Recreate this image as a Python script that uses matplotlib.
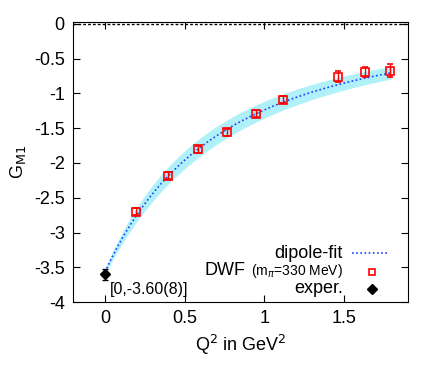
import numpy as np
import matplotlib.pyplot as plt

fonts = ['Liberation Sans Narrow', 'Liberation Sans']
plt.rcParams['font.family'] = fonts
plt.rcParams['mathtext.fontset'] = 'custom'
plt.rcParams['mathtext.rm'] = 'Liberation Sans Narrow'
plt.rcParams['mathtext.it'] = 'Liberation Sans Narrow:italic'

# lattice points (DWF, m_pi = 330 MeV)
q2 = [0.195, 0.394, 0.583, 0.765, 0.945, 1.12, 1.46, 1.63, 1.79]
gm1 = [-2.70, -2.18, -1.80, -1.56, -1.29, -1.09, -0.76, -0.69, -0.67]
gm1_err = [0.05, 0.05, 0.05, 0.05, 0.05, 0.05, 0.08, 0.07, 0.09]

# experiment
q2_exp = [0.0]
gm1_exp = [-3.60]
gm1_exp_err = [0.08]

# dipole fit parameters G0/(1+Q2/m2)^2
g0, g0_err = -3.57, 0.04
m2, m2_err = 1.43, 0.15

x = np.linspace(0, 1.8, 200)
fit = g0/(1 + x/m2)**2
lo = (g0 - g0_err)/(1 + x/(m2 + m2_err))**2
hi = (g0 + g0_err)/(1 + x/(m2 - m2_err))**2

fig = plt.figure(figsize=(4.32, 3.74), dpi=100)
ax = fig.add_axes([0.169, 0.1925, 0.775, 0.748])

ax.fill_between(x, lo, hi, color='#b0f0f8', lw=0)
ax.axhline(0, color='black', ls=(0, (2, 1.5)), lw=1)
ax.plot(x, fit, color='#1f3fff', ls=(0, (1, 1.5)), lw=1.2)
ax.errorbar(q2, gm1, yerr=gm1_err, fmt='s', mfc='none', mec='red', ecolor='red',
            ms=6, mew=1.2, capsize=2.5, elinewidth=1)
ax.errorbar(q2_exp, gm1_exp, yerr=gm1_exp_err, fmt='D', color='black',
            ms=5, capsize=2.5, elinewidth=1)
ax.text(0.03, -3.82, '[0,-3.60(8)]', fontsize=11.5, va='center')

ax.set_xlim(-0.2, 1.9)
ax.set_ylim(-4, 0.025)
ax.set_xticks([0, 0.5, 1, 1.5])
ax.set_xticklabels(['0', '0.5', '1', '1.5'])
ax.set_yticks([0, -0.5, -1, -1.5, -2, -2.5, -3, -3.5, -4])
ax.set_yticklabels(['0', '-0.5', '-1', '-1.5', '-2', '-2.5', '-3', '-3.5', '-4'])
ax.tick_params(direction='in', top=True, right=True, labelsize=13, length=5, pad=6)
ax.set_xlabel(r'Q$^2$ in GeV$^2$', fontsize=13)
ax.set_ylabel(r'G$_{\mathrm{M1}}$', fontsize=13)

# gnuplot style key: text right aligned, sample on the right
tr = ax.transAxes
ax.text(0.806, 0.156, 'dipole-fit', transform=tr, ha='right', va='baseline', fontsize=13)
ax.plot([0.832, 0.943], [0.175, 0.175], transform=tr, color='#1f3fff',
        ls=(0, (1, 1.5)), lw=1.2, clip_on=False)
small = ax.text(0.806, 0.096, r'(m$_\pi$=330 MeV)', transform=tr, ha='right',
                va='baseline', fontsize=10)
ax.annotate('DWF', xy=(0, 0.096), xycoords=(small, tr), xytext=(-4, 0),
            textcoords='offset points', ha='right', va='baseline', fontsize=13)
ax.plot([0.892], [0.108], transform=tr, marker='s', ls='none', mfc='none', mec='red',
        ms=5, mew=1.2, clip_on=False)
ax.text(0.806, 0.031, 'exper.', transform=tr, ha='right', va='baseline', fontsize=13)
ax.plot([0.892], [0.047], transform=tr, marker='D', ls='none', color='black', ms=5,
        clip_on=False)

fig.savefig('out.png', dpi=100)
